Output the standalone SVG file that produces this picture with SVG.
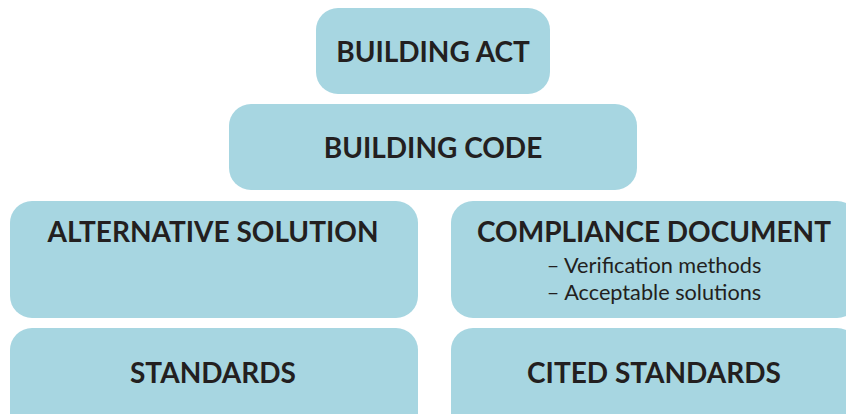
<svg xmlns="http://www.w3.org/2000/svg" width="846" height="414" viewBox="0 0 846 414">
<style>
.box{fill:#a7d6e1}
.t{font-family:Lato,"Noto Sans",sans-serif;font-weight:bold;font-size:28px;fill:#231f20;text-anchor:middle}
.s{font-family:Lato,"Noto Sans",sans-serif;font-size:21.7px;fill:#231f20;text-anchor:middle}
</style>
<rect width="846" height="414" fill="#ffffff"/>
<g id="building-act"><rect class="box" x="316" y="8" width="234" height="86" rx="22"/><text class="t" x="433" y="62">BUILDING ACT</text></g>
<g id="building-code"><rect class="box" x="229" y="104" width="408" height="86" rx="22"/><text class="t" x="433" y="158">BUILDING CODE</text></g>
<g id="alternative-solution"><rect class="box" x="10" y="201" width="408" height="117" rx="22"/><text class="t" x="213" y="242">ALTERNATIVE SOLUTION</text></g>
<g id="compliance-document"><rect class="box" x="451" y="201" width="408" height="117" rx="22"/><text class="t" x="654" y="242">COMPLIANCE DOCUMENT</text><text class="s" x="654" y="273">– Verification methods</text><text class="s" x="654" y="300">– Acceptable solutions</text></g>
<g id="standards"><rect class="box" x="10" y="328" width="408" height="110" rx="22"/><text class="t" x="213" y="383">STANDARDS</text></g>
<g id="cited-standards"><rect class="box" x="451" y="328" width="408" height="110" rx="22"/><text class="t" x="654" y="383">CITED STANDARDS</text></g>
<g id="connectors"></g>
</svg>
